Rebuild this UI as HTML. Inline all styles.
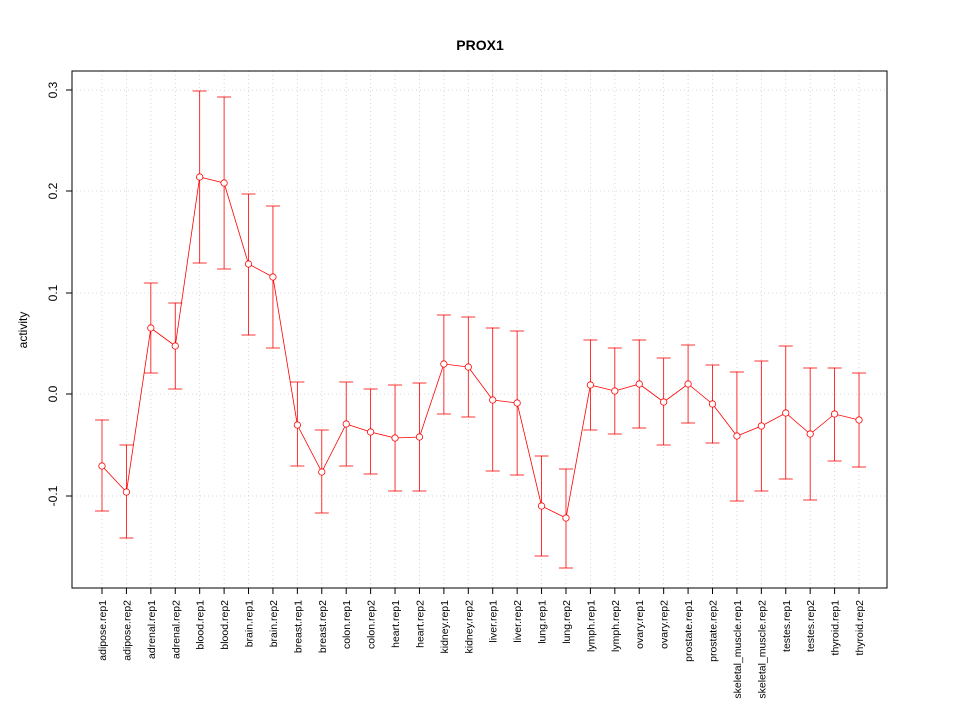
<!DOCTYPE html>
<html><head><meta charset="utf-8"><style>body{margin:0;background:#fff}</style></head><body>
<svg width="960" height="720" xmlns="http://www.w3.org/2000/svg" font-family="Liberation Sans, sans-serif">
<rect width="960" height="720" fill="#fff"/>
<text x="480" y="50" text-anchor="middle" font-size="14" font-weight="bold">PROX1</text>
<g id="g"></g>
<rect x="72" y="71" width="815" height="517" fill="none" stroke="#000"/>
<g stroke="#000"><line x1="72" y1="90" x2="72" y2="496"/>
<line x1="66" y1="90" x2="72" y2="90"/><line x1="66" y1="191" x2="72" y2="191"/><line x1="66" y1="293" x2="72" y2="293"/><line x1="66" y1="394" x2="72" y2="394"/><line x1="66" y1="496" x2="72" y2="496"/></g>
<g font-size="12" text-anchor="middle">
<text transform="translate(57,90) rotate(-90)">0.3</text>
<text transform="translate(57,191) rotate(-90)">0.2</text>
<text transform="translate(57,293) rotate(-90)">0.1</text>
<text transform="translate(57,394) rotate(-90)">0.0</text>
<text transform="translate(57,496) rotate(-90)">-0.1</text>
<text transform="translate(27,330) rotate(-90)">activity</text>
</g>
<g id="d"></g>
</svg>
<script>
var L=["adipose.rep1","adipose.rep2","adrenal.rep1","adrenal.rep2","blood.rep1","blood.rep2","brain.rep1","brain.rep2","breast.rep1","breast.rep2","colon.rep1","colon.rep2","heart.rep1","heart.rep2","kidney.rep1","kidney.rep2","liver.rep1","liver.rep2","lung.rep1","lung.rep2","lymph.rep1","lymph.rep2","ovary.rep1","ovary.rep2","prostate.rep1","prostate.rep2","skeletal_muscle.rep1","skeletal_muscle.rep2","testes.rep1","testes.rep2","thyroid.rep1","thyroid.rep2"];
var D=[[466,420,511],[492,445,538],[328,283,373],[346,303,389],[177,91,263],[183,97,269],[264,194,335],[277,206,348],[425,382,466],[472,430,513],[424,382,466],[432,389,474],[438,385,491],[437,383,491],[364,315,414],[367,317,417],[400,328,471],[403,331,475],[506,456,556],[518,469,568],[385,340,430],[391,348,434],[384,340,428],[402,358,445],[384,345,423],[404,365,443],[436,372,501],[426,361,491],[413,346,479],[434,368,500],[414,368,461],[420,373,467]];
var s='',g='',pts=[];
[90,191,293,394,496].forEach(function(y){g+='<line x1="72" x2="887" y1="'+y+'" y2="'+y+'" stroke="#ccc" stroke-width="0.8" stroke-dasharray="1,3"/>';});
for(var i=0;i<32;i++){var x=102+i*24.42;
g+='<line x1="'+x+'" x2="'+x+'" y1="71" y2="588" stroke="#ccc" stroke-width="0.8" stroke-dasharray="1,3"/>';
var d=D[i];pts.push(x+','+d[0]);
s+='<line x1="'+x+'" x2="'+x+'" y1="'+d[1]+'" y2="'+d[2]+'" stroke="#f00" stroke-width="0.8"/>';
s+='<line x1="'+(x-7)+'" x2="'+(x+7)+'" y1="'+d[1]+'" y2="'+d[1]+'" stroke="#f00" stroke-width="0.8"/>';
s+='<line x1="'+(x-7)+'" x2="'+(x+7)+'" y1="'+d[2]+'" y2="'+d[2]+'" stroke="#f00" stroke-width="0.8"/>';
s+='<line x1="'+x+'" x2="'+x+'" y1="588" y2="594" stroke="#000"/>';
s+='<text font-size="10.5" text-anchor="end" transform="translate('+(x+4)+',600) rotate(-90)">'+L[i]+'</text>';}
s+='<polyline points="'+pts.join(' ')+'" fill="none" stroke="#f00" stroke-width="0.8"/>';
pts.forEach(function(p){var a=p.split(',');s+='<circle cx="'+a[0]+'" cy="'+a[1]+'" r="3.2" fill="#fff" stroke="#f00" stroke-width="0.8"/>';});
s+='<line x1="102" x2="859" y1="588" y2="588" stroke="#000"/>';
document.getElementById('g').innerHTML=g;document.getElementById('d').innerHTML=s;
</script>
</body></html>
